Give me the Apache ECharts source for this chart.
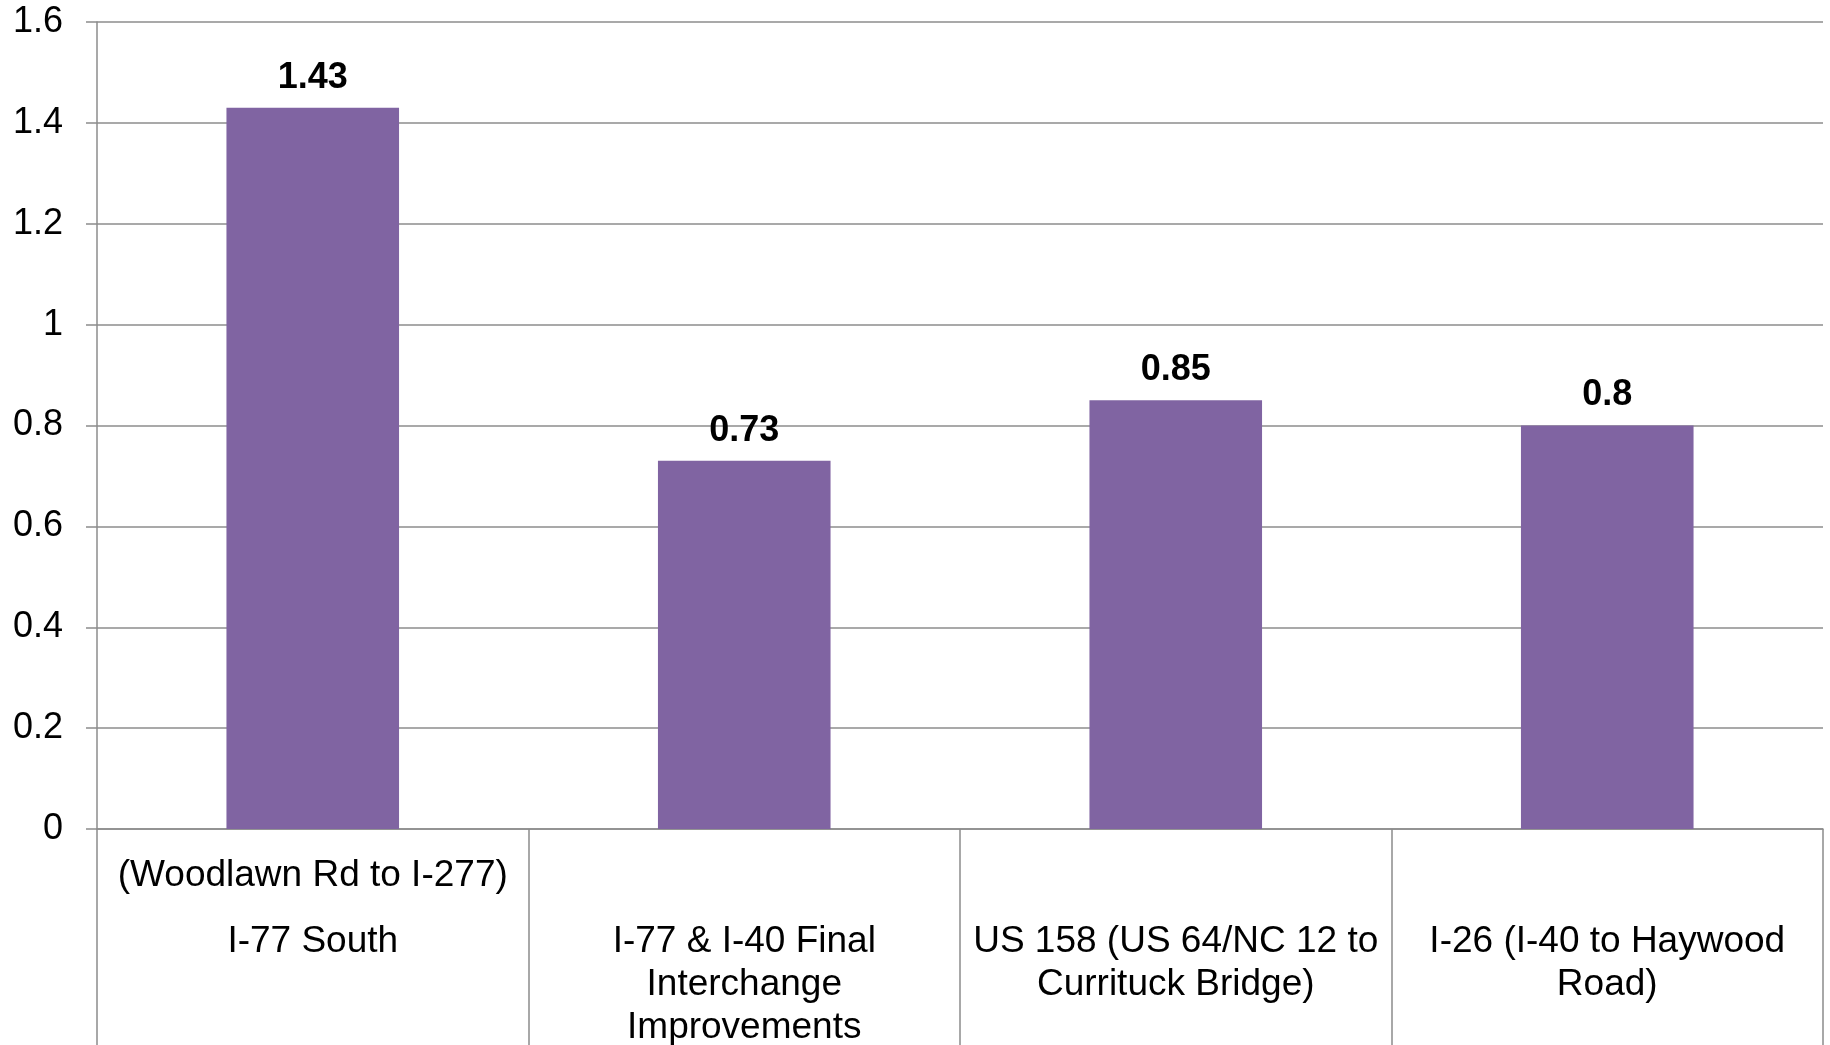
<!DOCTYPE html>
<html>
<head>
<meta charset="utf-8">
<script src="https://cdn.jsdelivr.net/npm/echarts@6/dist/echarts.min.js"></script>
<style>
html,body{margin:0;padding:0;background:#fff;}
#chart{width:1830px;height:1045px;}
</style>
</head>
<body>
<div id="chart"></div>
<script>
var categories = [
  'I-77 South',
  'I-77 & I-40 Final\nInterchange\nImprovements',
  'US 158 (US 64/NC 12 to\nCurrituck Bridge)',
  'I-26 (I-40 to Haywood\nRoad)'
];
var subLabels = ['(Woodlawn Rd to I-277)', '', '', ''];
var values = [1.43, 0.73, 0.85, 0.8];
var yTicks = { min: 0, max: 1.6, interval: 0.2 };

var FONT = '"Liberation Sans", Arial, sans-serif';
var GRAY = '#8c8c8c';

var chart = echarts.init(document.getElementById('chart'), null, { renderer: 'canvas' });
chart.setOption({
  animation: false,
  backgroundColor: '#ffffff',
  grid: { left: 97, right: 7, top: 22, bottom: 216, containLabel: false, outerBoundsMode: 'none' },
  xAxis: [
    {
      type: 'category',
      data: categories,
      position: 'bottom',
      boundaryGap: true,
      axisLine: { show: true, lineStyle: { color: GRAY, width: 1.5 } },
      axisTick: { show: true, alignWithLabel: false, length: 240, lineStyle: { color: GRAY, width: 1.5 } },
      axisLabel: {
        interval: 0,
        margin: 91,
        color: '#000',
        fontFamily: FONT,
        fontSize: 37,
        lineHeight: 43,
        align: 'center',
        verticalAlign: 'top'
      },
      splitLine: { show: false }
    },
    {
      type: 'category',
      data: categories,
      position: 'bottom',
      boundaryGap: true,
      axisLine: { show: false },
      axisTick: { show: false },
      axisLabel: {
        interval: 0,
        margin: 25,
        color: '#000',
        fontFamily: FONT,
        fontSize: 37,
        lineHeight: 43,
        verticalAlign: 'top',
        formatter: function (v, i) { return subLabels[i]; }
      },
      splitLine: { show: false }
    }
  ],
  yAxis: {
    type: 'value',
    min: yTicks.min,
    max: yTicks.max,
    interval: yTicks.interval,
    axisLine: { show: true, lineStyle: { color: GRAY, width: 1.5 } },
    axisTick: { show: true, length: 11, lineStyle: { color: GRAY, width: 1.5 } },
    axisLabel: { margin: 34, color: '#000', fontFamily: FONT, fontSize: 36, padding: [5, 0, 0, 0] },
    splitLine: { show: true, lineStyle: { color: GRAY, width: 1.5 } }
  },
  series: [{
    type: 'bar',
    xAxisIndex: 0,
    data: values,
    barWidth: '40%',
    itemStyle: { color: '#8064A2' },
    label: {
      show: true,
      position: 'top',
      distance: 12,
      color: '#000',
      fontFamily: FONT,
      fontSize: 36,
      fontWeight: 'bold'
    }
  }]
});
</script>
</body>
</html>
